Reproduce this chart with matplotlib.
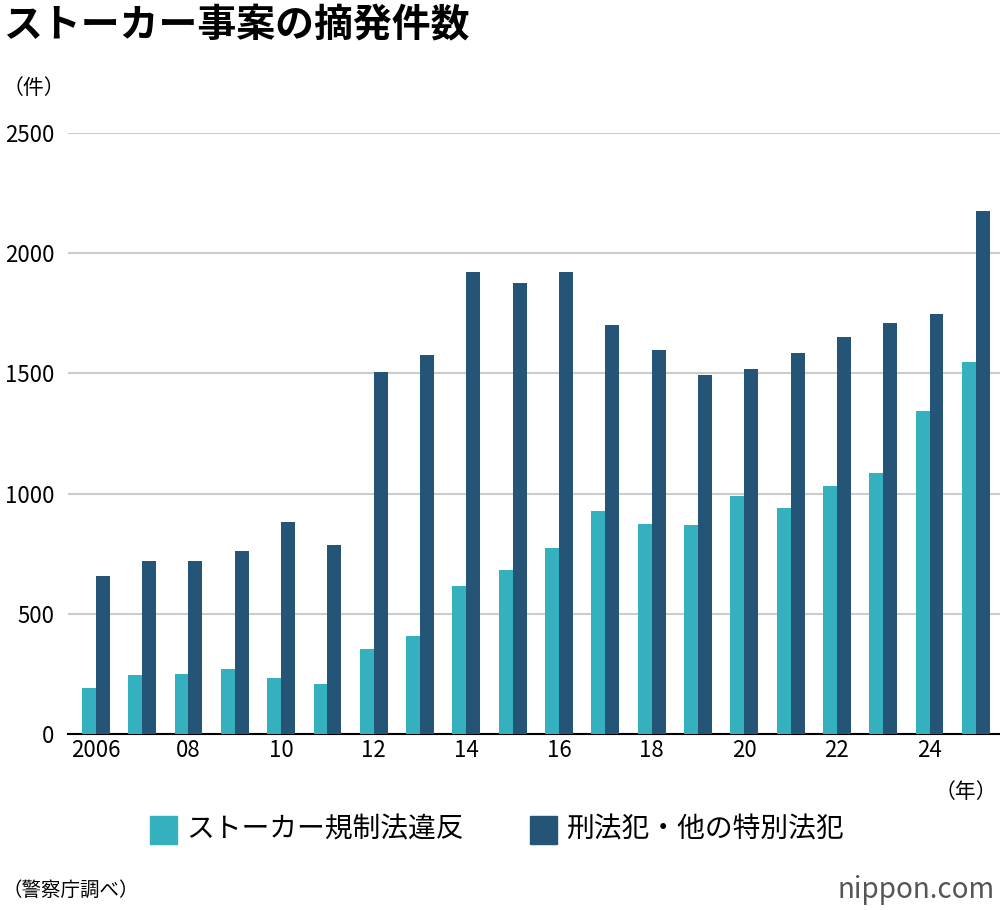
import matplotlib.pyplot as plt
import numpy as np

plt.rcParams['font.family'] = ['Noto Sans CJK JP', 'DejaVu Sans']

years = list(range(2006, 2026))
stalker = [191, 245, 250, 270, 233, 208, 354, 408, 616, 682, 774, 928, 874, 869, 990, 940, 1032, 1086, 1344, 1547]
other = [657, 720, 720, 761, 882, 786, 1506, 1577, 1922, 1876, 1922, 1701, 1597, 1493, 1518, 1585, 1651, 1710, 1747, 2176]
tick_labels = ['2006', '08', '10', '12', '14', '16', '18', '20', '22', '24']

light = '#34b0bf'
dark = '#245576'

fig = plt.figure(figsize=(10, 9.1), dpi=100)
ax = fig.add_axes([0.068, 0.193, 0.932, 0.661])
x = np.arange(len(years))
w = 0.3
ax.bar(x - w / 2, stalker, w, color=light, zorder=3)
ax.bar(x + w / 2, other, w, color=dark, zorder=3)
ax.set_xlim(-0.6, 19.52)
ax.set_ylim(0, 2500)
ax.set_yticks(range(0, 2501, 500))
ax.yaxis.grid(True, color='#cccccc', linewidth=1.5, zorder=0)
ax.set_xticks(x[::2])
ax.set_xticklabels(tick_labels)
ax.tick_params(axis='both', length=0, labelsize=16)
ax.tick_params(axis='y', pad=10)
for s in ['top', 'right', 'left']:
    ax.spines[s].set_visible(False)
ax.spines['bottom'].set_color('black')
ax.spines['bottom'].set_linewidth(1.5)

fig.text(0.003, 0.972, 'ストーカー事案の摘発件数', fontsize=28, fontweight='bold', va='center')
fig.text(0.003, 0.903, '（件）', fontsize=15, va='center')
fig.text(0.997, 0.13, '（年）', fontsize=15, va='center', ha='right')

fig.patches.append(plt.Rectangle((0.15, 0.073), 0.027, 0.03, color=light, transform=fig.transFigure))
fig.text(0.186, 0.088, 'ストーカー規制法違反', fontsize=20, va='center')
fig.patches.append(plt.Rectangle((0.53, 0.073), 0.027, 0.03, color=dark, transform=fig.transFigure))
fig.text(0.566, 0.088, '刑法犯・他の特別法犯', fontsize=20, va='center')

fig.text(0.003, 0.022, '（警察庁調べ）', fontsize=14, va='center')
fig.text(0.995, 0.022, 'nippon.com', fontsize=20, va='center', ha='right', color='#555555')

fig.savefig('out.png', dpi=100)
